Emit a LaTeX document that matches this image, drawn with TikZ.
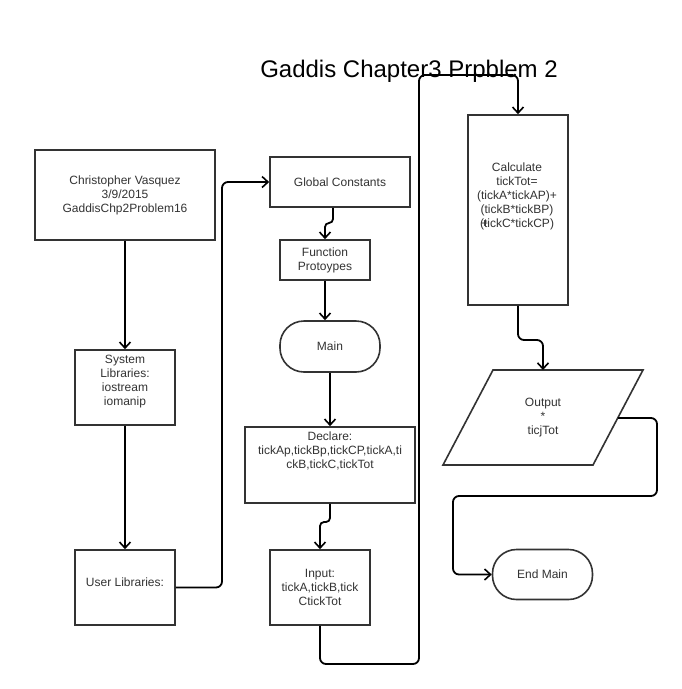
\documentclass[tikz,border=0pt]{standalone}
\usepackage{fontspec}
\setmainfont{Liberation Sans}
\usetikzlibrary{arrows.meta}
\definecolor{boxc}{HTML}{333333}
\definecolor{txtc}{HTML}{333333}
\tikzset{
  box/.style={draw=boxc, line width=1.6pt, rectangle, inner sep=0pt, text=txtc,
    font=\fontsize{12}{14}\selectfont, align=center},
  term/.style={box, rounded corners=24pt},
  lbl/.style={text=txtc, font=\fontsize{12}{14}\selectfont, align=center, inner sep=0pt},
  conn/.style={draw=black, line width=1.8pt, rounded corners=6pt},
  arr/.style={conn, -{Straight Barb[length=6pt,width=11pt,line width=1.6pt]}},
}
\begin{document}
\begin{tikzpicture}[x=1pt,y=-1pt]
\useasboundingbox[fill=white] (0,0) rectangle (682,689);

\node[text=black, font=\fontsize{24}{28}\selectfont, anchor=base, inner sep=0pt] (title) at (409,77) {Gaddis Chapter3 Prpblem 2};

\node[box, minimum width=180pt, minimum height=90pt] (author) at (125,195) {Christopher Vasquez\\3/9/2015\\GaddisChp2Problem16};

\node[box, minimum width=100pt, minimum height=75pt] (syslib) at (125,387.5) {};
\node[lbl, anchor=north] (syslibt) at (125,355) {System\\Libraries:\\iostream\\iomanip};

\node[box, minimum width=100pt, minimum height=75pt] (userlib) at (125,587.5) {};
\node[lbl] (userlibt) at (125,582) {User Libraries:};

\node[box, minimum width=140pt, minimum height=50pt] (gc) at (340,182) {Global Constants};
\node[box, minimum width=90pt, minimum height=40pt] (fp) at (325,260) {Function\\Protoypes};
\node[term, minimum width=100pt, minimum height=51pt] (main) at (330,346.5) {Main};

\node[box, minimum width=170pt, minimum height=76pt] (decl) at (330,465) {};
\node[lbl, anchor=north] (declt) at (330,432) {Declare:\\tickAp,tickBp,tickCP,tickA,ti\\ckB,tickC,tickTot};

\node[box, minimum width=100pt, minimum height=75pt] (inp) at (320,587.5) {Input:\\tickA,tickB,tick\\CtickTot};

\node[box, minimum width=100pt, minimum height=190pt] (calc) at (518,210) {};
\node[lbl] (calct) at (517,196) {Calculate\\tickTot=\\(tickA*tickAP)+\\(tickB*tickBP)\\\rlap{\kern1pt+}(tickC*tickCP)};

\draw[draw=boxc, line width=1.6pt, line join=miter] (493,370) -- (643,370) -- (593,465) -- (443,465) -- cycle;
\node[lbl] (outt) at (543,418) {Output\\*\\ticjTot};
\coordinate (outtop) at (543,370);
\coordinate (outexit) at (618,418);

\node[term, minimum width=100pt, minimum height=50pt] (endm) at (542.5,574.5) {End Main};

% connectors
\draw[arr] (author.south) -- (syslib.north);
\draw[arr] (syslib.south) -- (userlib.north);
\draw[arr] (userlib.east) -- (222,587.5) -- (222,182) -- (gc.west);
\draw[arr, rounded corners=4pt] ([xshift=-7pt]gc.south) -- (333,223) -- (325,223) -- (fp.north);
\draw[arr] (fp.south) -- (fp.south |- main.north);
\draw[arr] (main.south) -- (decl.north);
\draw[arr, rounded corners=4pt] (decl.south) -- (330,522) -- (320,522) -- (inp.north);
\draw[arr] (inp.south) -- (320,664) -- (419,664) -- (419,75) -- (518,75) -- (calc.north);
\draw[arr] (calc.south) -- (518,340) -- (543,340) -- (outtop);
\draw[arr] (outexit) -- (657,418) -- (657,496) -- (453,496) -- (453,574.5) -- (endm.west);
\end{tikzpicture}
\end{document}
